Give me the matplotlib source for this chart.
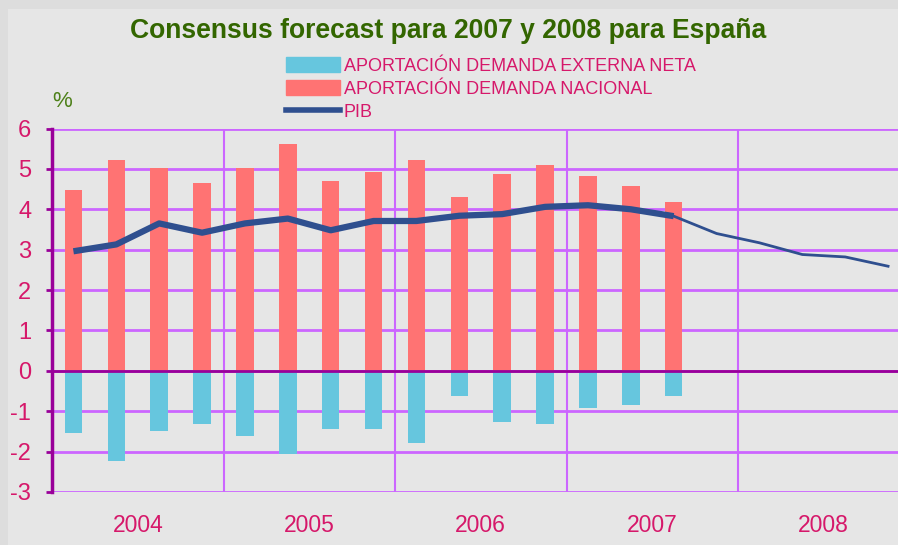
import matplotlib
matplotlib.use('Agg')
import matplotlib.pyplot as plt
from matplotlib.patches import Rectangle, Patch
from matplotlib.lines import Line2D
import numpy as np

plt.rcParams['font.family'] = ['Liberation Sans Narrow', 'Liberation Sans', 'DejaVu Sans']
plt.rcParams['axes.unicode_minus'] = False

# quarterly values, 2004Q1 .. 2008Q4
years = ['2004', '2005', '2006', '2007', '2008']
nacional = [4.47, 5.21, 5.03, 4.65, 5.03, 5.61, 4.70, 4.92,
            5.21, 4.30, 4.87, 5.09, 4.82, 4.57, 4.18]
externa = [-1.54, -2.24, -1.49, -1.31, -1.61, -2.06, -1.44, -1.44,
           -1.79, -0.62, -1.27, -1.31, -0.92, -0.84, -0.62]
pib = [2.96, 3.13, 3.65, 3.42, 3.65, 3.77, 3.48, 3.71, 3.71, 3.84,
       3.88, 4.06, 4.10, 4.00, 3.83, 3.40, 3.17, 2.88, 2.82, 2.59]
n_real = 15  # quarters with observed data, the rest is forecast

c_nac = '#FF7373'
c_ext = '#66C6DE'
c_pib = '#2F4F8F'
c_grid = '#CC66FF'
c_axis = '#990099'
c_txt = '#D6186A'
c_green = '#336600'

W, H = 898, 545
fig = plt.figure(figsize=(W / 100, H / 100), dpi=100)
fig.patch.set_facecolor('#DDDDDD')
fig.patches.append(Rectangle((8 / W, 0), 1, 1 - 9 / H, transform=fig.transFigure,
                             facecolor='#E6E6E6', edgecolor='none', zorder=-10))

left, right, top, bottom = 52, 909.5, 128.5, 492
ax = fig.add_axes([left / W, 1 - bottom / H, (right - left) / W, (bottom - top) / H])
ax.set_facecolor('none')

x = np.arange(len(pib))
ax.set_xlim(-0.5, len(pib) - 0.5)
ax.set_ylim(-3, 6)

# grid
for v in range(-3, 7):
    ax.axhline(v, color=c_grid, lw=2, zorder=0)
for b in np.arange(3.5, len(pib), 4):
    ax.axvline(b, color=c_grid, lw=1.5, zorder=0)

bw = 0.41
ax.bar(x[:len(nacional)], nacional, width=bw, color=c_nac, zorder=2)
ax.bar(x[:len(externa)], externa, width=bw, color=c_ext, zorder=2)
ax.axhline(0, color=c_axis, lw=2, zorder=3)

ax.plot(x[:n_real], pib[:n_real], color=c_pib, lw=4.5, zorder=4, solid_capstyle='butt')
ax.plot(x[n_real - 1:], pib[n_real - 1:], color=c_pib, lw=2, zorder=4)

for s in ['top', 'right', 'bottom']:
    ax.spines[s].set_visible(False)
ax.spines['left'].set_color(c_axis)
ax.spines['left'].set_linewidth(2.5)

ax.set_yticks(range(-3, 7))
ax.tick_params(axis='y', colors=c_axis, labelcolor=c_txt, labelsize=17, length=4, width=2, pad=11)
ax.set_xticks(np.arange(3.5, len(pib), 4))
ax.tick_params(axis='x', length=0, labelbottom=False)

for i, yr in enumerate(years):
    ax.text(i * 4 + 1.5, -3.82, yr, ha='center', va='center', color=c_txt, fontsize=16.5)

ax.text(-0.5, 6.67, '%', ha='left', va='center', color='#4D8019', fontsize=16)

fig.text(448 / W, 1 - 31 / H, 'Consensus forecast para 2007 y 2008 para España',
         ha='center', va='center', color=c_green, fontsize=19.1, fontweight='bold',
         family=['Liberation Sans Narrow', 'Liberation Sans'])

handles = [Patch(color=c_ext), Patch(color=c_nac), Line2D([], [], color=c_pib, lw=4)]
labels = ['APORTACIÓN DEMANDA EXTERNA NETA', 'APORTACIÓN DEMANDA NACIONAL', 'PIB']
fig.legend(handles, labels, loc='upper left', bbox_to_anchor=(277 / W, 1 - 48 / H),
           frameon=False, fontsize=13, labelcolor=c_txt, handlelength=3.0,
           handleheight=0.9, handletextpad=0.2, labelspacing=0.3, borderpad=0)

fig.savefig('out.png', dpi=100, facecolor=fig.get_facecolor())
